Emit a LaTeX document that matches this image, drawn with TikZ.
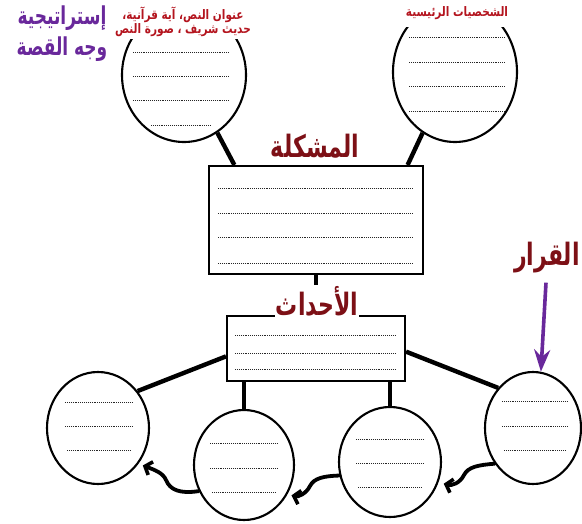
\documentclass[tikz,border=0pt]{standalone}
\usepackage{graphicx}
\usepackage{fontspec}
\newfontfamily\arabicfont[Script=Arabic]{DejaVu Sans}
\TeXXeTstate=1
\usetikzlibrary{shapes.geometric,arrows.meta,calc}
\definecolor{dred}{RGB}{125,16,22}
\definecolor{lred}{RGB}{180,20,30}
\definecolor{purp}{RGB}{105,40,155}
\begin{document}
\begin{tikzpicture}[x=1pt,y=-1pt,
  bubble/.style={ellipse, draw, line width=2.1pt, inner sep=0pt},
  box/.style={rectangle, draw, line width=2.1pt, inner sep=0pt},
  link/.style={line width=4.4pt},
  wave/.style={line width=3.8pt, line cap=round, -{Straight Barb[length=6pt,width=14pt,line width=3.6pt]}},
  dots/.style={line width=0.8pt, dash pattern=on 0.8pt off 1.1pt, black!85},
  bigtitle/.style={font=\arabicfont\bfseries\fontsize{22}{26}\selectfont, text=dred, inner sep=1pt},
  smalllab/.style={font=\arabicfont\bfseries\fontsize{10.5}{12}\selectfont, text=lred, align=center, fill=white, inner sep=2pt},
  purptitle/.style={font=\arabicfont\bfseries\fontsize{17}{20}\selectfont, text=purp}
]
\useasboundingbox (0,0) rectangle (582,523);

% shapes
\node[bubble, minimum width=124, minimum height=134] (tl) at (184,75) {};
\node[bubble, minimum width=124, minimum height=140] (tr) at (455,72) {};
\node[box, minimum width=214, minimum height=108] (prob) at (316,220) {};
\node[box, minimum width=178, minimum height=65] (ev) at (316,348.5) {};
\node[bubble, minimum width=102, minimum height=112] (b1) at (98,428) {};
\node[bubble, minimum width=100, minimum height=110] (b2) at (244,465) {};
\node[bubble, minimum width=102, minimum height=110] (b3) at (390,462) {};
\node[bubble, minimum width=96, minimum height=112] (b4) at (533,428) {};

% dotted writing lines
\foreach \y in {52,76,100} \draw[dots] (133,\y) -- (229,\y);
\draw[dots] (151,125) -- (210,125);
\foreach \y in {37,62,86,111} \draw[dots] (409,\y) -- (505,\y);
\foreach \y in {188,213,237,263} \draw[dots] (218,\y) -- (413,\y);
\foreach \y in {335,353,369} \draw[dots] (235,\y) -- (395,\y);
\foreach \y in {402,426} \draw[dots] (65,\y) -- (132,\y);
\draw[dots] (67,450) -- (130,450);
\foreach \y in {443,468} \draw[dots] (210,\y) -- (277,\y);
\draw[dots] (212,492) -- (275,492);
\foreach \y in {439,463} \draw[dots] (356,\y) -- (423,\y);
\draw[dots] (358,487) -- (421,487);
\foreach \y in {401,426} \draw[dots] (502,\y) -- (567,\y);
\draw[dots] (504,450) -- (565,450);

% connectors
\draw[link] (tl.-60) -- (prob.146);
\draw[link] (tr.-118) -- (prob.31);
\draw[link] (prob.south) -- (ev.north);
\draw[link] (b1.43) -- (ev.185);
\draw[link] (b4.131) -- (ev.-2);
\draw[link] (b2.north |- ev.south) -- (b2.north);
\draw[link] (b3.north |- ev.south) -- (b3.north);

% wavy arrows
\draw[wave] (b4.223) .. controls (478,465) and (468,467) .. (464,475)
   .. controls (460,483) and (452,486) .. ($(b3.-22)+(5,2)$);
\draw[wave] (b3.195) .. controls (324,476) and (314,478) .. (310,486)
   .. controls (306,494) and (298,497) .. ($(b2.-34)+(4,1)$);
\draw[wave] (b2.210) .. controls (180,494) and (170,490) .. (166,480)
   .. controls (163,473) and (155,470) .. ($(b1.-41)+(4,2)$);

% labels
\node[smalllab] (lab1) at (183,22) {\scalebox{1}[1.25]{\beginR عنوان النص، آية قرآنية،\endR}\\\scalebox{1}[1.25]{\beginR حديث شريف ، صورة النص\endR}};
\node[smalllab, inner ysep=7pt] (lab2) at (457,13) {\scalebox{1}[1.25]{\beginR الشخصيات الرئيسية\endR}};
\node[purptitle] (t1) at (62,18) {\scalebox{1}[1.45]{\beginR إستراتيجية\endR}};
\node[purptitle] (t2) at (62,49) {\scalebox{1}[1.45]{\beginR وجه القصة\endR}};
\node[bigtitle] (probt) at (315,146) {\scalebox{1}[1.4]{\beginR المشكلة\endR}};
\node[bigtitle, fill=white] (evt) at (317,301) {\scalebox{1}[1.4]{\beginR الأحداث\endR}};
\node[bigtitle] (qarar) at (547,258) {\scalebox{1}[1.4]{\beginR القرار\endR}};

\draw[purp, line width=3.6pt, -{Stealth[length=22pt,width=16pt]}] ($(qarar.south)+(-1,8)$) -- (b4.82);
\end{tikzpicture}
\end{document}
